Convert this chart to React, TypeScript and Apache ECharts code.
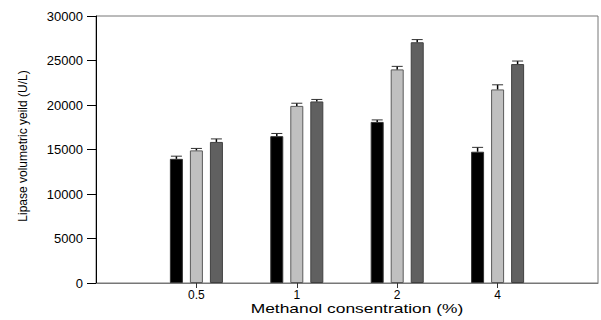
import React, { useEffect, useRef } from "react";
import * as echarts from "echarts";

const categories = ["0.5", "1", "2", "4"];
const seriesA = [13950, 16500, 18100, 14750];
const errA = [300, 300, 225, 490];
const seriesB = [14900, 19900, 24000, 21750];
const errB = [220, 300, 340, 520];
const seriesC = [15850, 20400, 27050, 24600];
const errC = [340, 225, 300, 340];
const yTicks = { min: 0, max: 30000, interval: 5000 };

const FONT = "'Liberation Sans', Arial, sans-serif";

export default function App() {
  const ref = useRef<HTMLDivElement>(null);
  useEffect(() => {
    if (!ref.current) return;
    const chart = echarts.init(ref.current, null, { renderer: "svg" });
    const axisData = ["", ...categories, ""];
    const pad = (arr: number[]) => [null, ...arr, null];
    const errData: number[][] = [];
    [
      [seriesA, errA],
      [seriesB, errB],
      [seriesC, errC],
    ].forEach(([vals, errs], s) => {
      vals.forEach((v, i) => errData.push([i + 1, v, errs[i], s]));
    });
    const barStyle = (fill: string, border: string) => ({
      color: fill,
      borderColor: border,
      borderWidth: 1,
    });
    chart.setOption({
      animation: false,
      grid: {
        left: 96,
        top: 16,
        width: 517,
        height: 267,
        show: true,
        borderColor: "#777",
        borderWidth: 1,
        backgroundColor: "transparent",
      },
      xAxis: {
        type: "category",
        data: axisData,
        boundaryGap: false,
        axisLine: { lineStyle: { color: "#777", width: 1 } },
        axisTick: {
          length: 5,
          lineStyle: { color: "#333" },
          interval: (idx: number) => idx >= 1 && idx <= categories.length,
        },
        axisLabel: {
          interval: 0,
          margin: 6,
          fontSize: 12,
          color: "#000",
          fontFamily: FONT,
        },
        splitLine: { show: false },
      },
      yAxis: {
        type: "value",
        min: yTicks.min,
        max: yTicks.max,
        interval: yTicks.interval,
        axisLine: { show: true, lineStyle: { color: "#000", width: 1 } },
        axisTick: { show: true, length: 9, lineStyle: { color: "#000" } },
        axisLabel: {
          margin: 13,
          fontSize: 13,
          color: "#000",
          fontFamily: FONT,
          formatter: (v: number) => String(v),
        },
        splitLine: { show: false },
      },
      graphic: [
        {
          type: "text",
          x: 357,
          y: 309,
          scaleX: 1.45,
          style: {
            text: "Methanol consentration (%)",
            fontSize: 12,
            fontFamily: FONT,
            fill: "#000",
            align: "center",
            verticalAlign: "middle",
          },
        },
        {
          type: "text",
          x: 23,
          y: 146,
          rotation: Math.PI / 2,
          style: {
            text: "Lipase volumetric yeild (U/L)",
            fontSize: 12,
            fontFamily: FONT,
            fill: "#000",
            align: "center",
            verticalAlign: "middle",
          },
        },
      ],
      series: [
        {
          type: "bar",
          data: pad(seriesA),
          barWidth: 13,
          barGap: "54%",
          itemStyle: barStyle("#000000", "#333333"),
        },
        {
          type: "bar",
          data: pad(seriesB),
          barWidth: 13,
          barGap: "54%",
          itemStyle: barStyle("#c0c0c0", "#5a5a5a"),
        },
        {
          type: "bar",
          data: pad(seriesC),
          barWidth: 13,
          barGap: "54%",
          itemStyle: barStyle("#606060", "#404040"),
        },
        {
          type: "custom",
          z: 10,
          data: errData,
          renderItem: (params: any, api: any) => {
            const ci = api.value(0);
            const v = api.value(1);
            const e = api.value(2);
            const s = api.value(3);
            const off = (s - 1) * 20;
            const base = api.coord([ci, v]);
            const top = api.coord([ci, v + e]);
            const x = base[0] + off;
            return {
              type: "group",
              children: [
                {
                  type: "line",
                  shape: { x1: x, y1: base[1], x2: x, y2: top[1] },
                  style: { stroke: "#000", lineWidth: 1.5 },
                },
                {
                  type: "line",
                  shape: { x1: x - 5.5, y1: top[1], x2: x + 5.5, y2: top[1] },
                  style: { stroke: "#333", lineWidth: 1 },
                },
              ],
            };
          },
        },
      ],
    });
    return () => chart.dispose();
  }, []);
  return (
    <div
      ref={ref}
      style={{ position: "absolute", left: 0, top: 0, width: 601, height: 320, background: "#fff" }}
    />
  );
}
